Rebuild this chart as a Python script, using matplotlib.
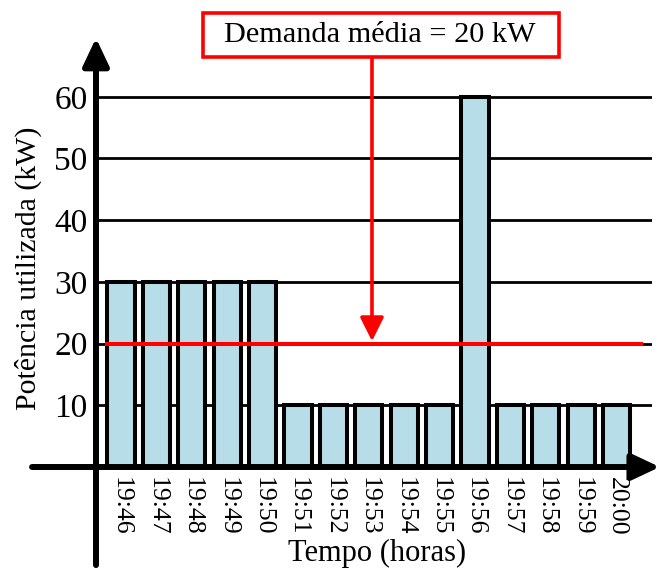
import matplotlib.pyplot as plt
from matplotlib.patches import Rectangle

# data
horarios = ['19:46', '19:47', '19:48', '19:49', '19:50', '19:51', '19:52', '19:53',
            '19:54', '19:55', '19:56', '19:57', '19:58', '19:59', '20:00']
potencia = [30, 30, 30, 30, 30, 10, 10, 10, 10, 10, 60, 10, 10, 10, 10]
demanda_media = 20
yticks = [10, 20, 30, 40, 50, 60]

plt.rcParams['font.family'] = ['Liberation Serif', 'DejaVu Serif']

fig = plt.figure(figsize=(6.61, 5.71), dpi=100)
ax = fig.add_axes([96 / 661, 104 / 571, 556 / 661, 407 / 571])

x = list(range(len(horarios)))
ax.bar(x, potencia, width=0.77, color='#B7DDE8', edgecolor='black', linewidth=2.9, zorder=2)

ax.set_xlim(-0.706, 15.0)
ax.set_ylim(0, 65.96)
ax.set_yticks(yticks)
ax.set_yticklabels([str(v) for v in yticks], fontsize=24)
ax.set_xticks(x)
ax.set_xticklabels(horarios, rotation=270, fontsize=18.5)
ax.tick_params(axis='both', length=0)
ax.tick_params(axis='x', pad=7)
ax.tick_params(axis='y', pad=6)
ax.set_axisbelow(True)
ax.yaxis.grid(True, color='black', linewidth=2.0)
for s in ax.spines.values():
    s.set_visible(False)

# linha da demanda media
ax.hlines(demanda_media, -0.45, 14.75, color='red', linewidth=2.9, zorder=3)

# eixos com setas
head = dict(arrowstyle='-|>,head_length=0.7,head_width=0.33', mutation_scale=24,
            color='black', lw=4.3, shrinkA=0, shrinkB=0, capstyle='round')
ax.annotate('', xy=(0, 1.054), xytext=(0, -0.241), xycoords='axes fraction',
            textcoords='axes fraction', arrowprops=head, annotation_clip=False)
ax.annotate('', xy=(1.014, 0), xytext=(-0.115, 0), xycoords='axes fraction',
            textcoords='axes fraction', arrowprops=head, annotation_clip=False)

# caixa de anotacao
fig.patches.append(Rectangle((203 / 661, 1 - 57 / 571), 356 / 661, 44 / 571,
                             transform=fig.transFigure, facecolor='white',
                             edgecolor='red', linewidth=2.6))
fig.text(380 / 661, 1 - 35 / 571, 'Demanda média = 20 kW', fontsize=21.8,
         ha='center', va='center')
ax.annotate('', xy=(7.09, demanda_media + 0.4), xytext=(7.09, 66.4),
            arrowprops=dict(arrowstyle='-|>,head_length=0.4,head_width=0.2', mutation_scale=36,
                            color='red', lw=2.6, shrinkA=0, shrinkB=0),
            annotation_clip=False, zorder=4)

fig.text(28 / 661, 1 - 268 / 571, 'Potência utilizada (kW)', fontsize=21.5,
         rotation=90, ha='center', va='center')
fig.text(377 / 661, 1 - 553 / 571, 'Tempo (horas)', fontsize=22, ha='center', va='center')

fig.savefig('out.png', dpi=100)
